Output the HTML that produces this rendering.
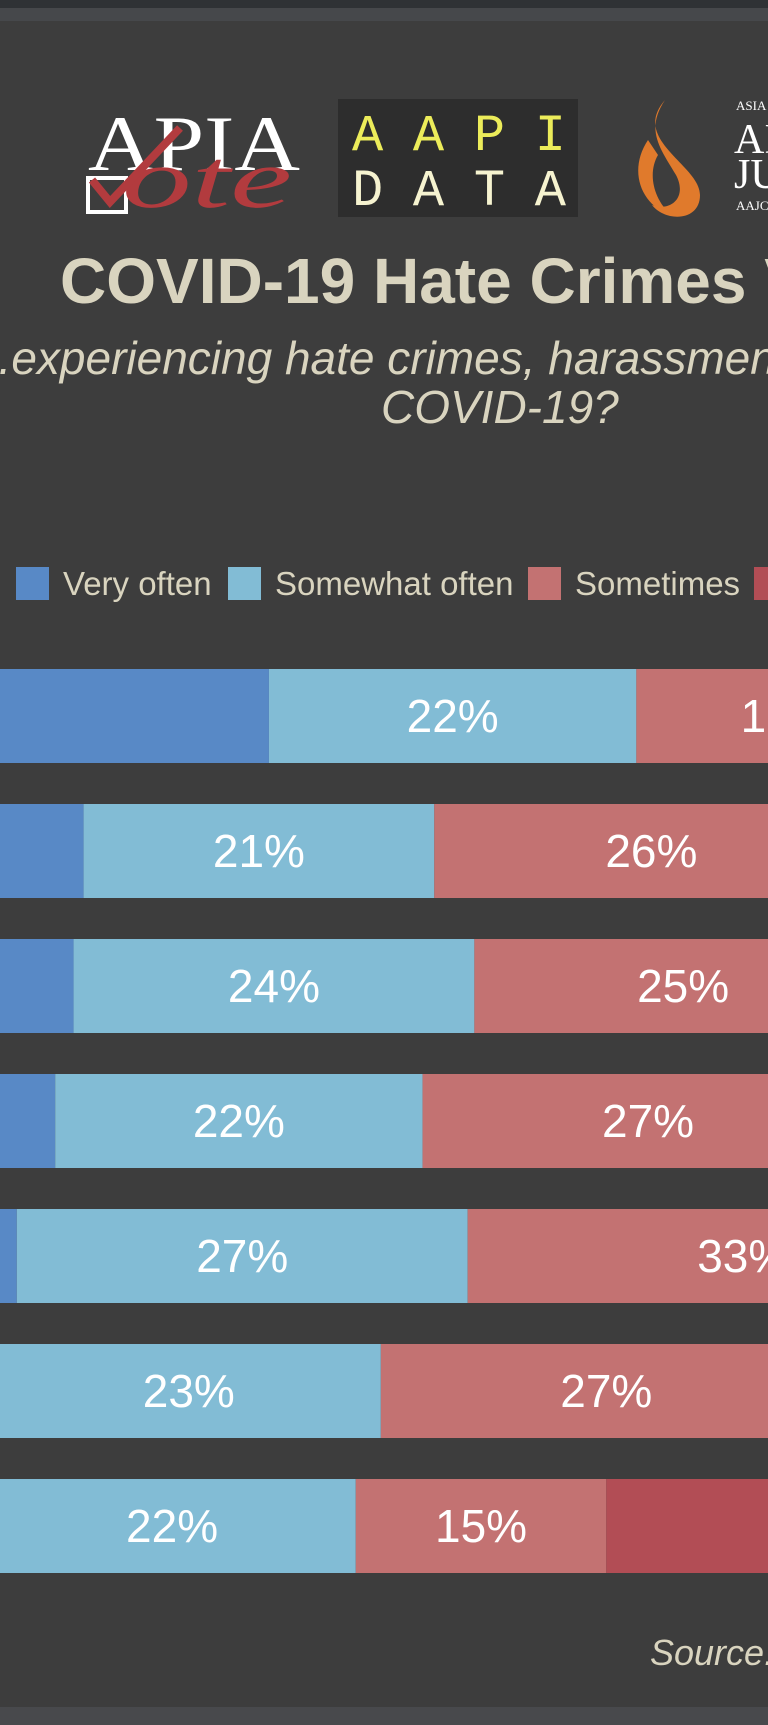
<!DOCTYPE html>
<html><head><meta charset="utf-8">
<style>
html,body{margin:0;padding:0;background:#3d3d3d;width:768px;height:1725px;overflow:hidden}
svg{display:block}
</style></head>
<body>
<svg id="chart" width="768" height="1725" viewBox="0 0 768 1725" xmlns="http://www.w3.org/2000/svg">
  <rect x="0" y="0" width="768" height="1725" fill="#3d3d3d"/>
  <rect x="0" y="0" width="768" height="8" fill="#2f3235"/>
  <rect x="0" y="8" width="768" height="13" fill="#46484b"/>
  <rect x="0" y="1707" width="768" height="18" fill="#48494c"/>

  <g>
    <text x="88" y="170" font-family="Liberation Serif, serif" font-size="78" fill="#ffffff" textLength="212" lengthAdjust="spacingAndGlyphs">APIA</text>
    <rect x="88" y="178" width="38" height="34" fill="none" stroke="#ffffff" stroke-width="4"/>
    <text x="122" y="207" font-family="Liberation Serif, serif" font-style="italic" font-size="84" fill="#b23b3e" textLength="170" lengthAdjust="spacingAndGlyphs">ote</text>
    <path d="M92 180 L110 202 L180 128" fill="none" stroke="#b23b3e" stroke-width="8"/>
  </g>
  <g>
    <rect x="338" y="99" width="240" height="118" fill="#2d2d2d"/>
    <text x="352" y="150" font-family="Liberation Mono, monospace" font-size="52" fill="#ecec5a" textLength="214" lengthAdjust="spacing">AAPI</text>
    <text x="352" y="205" font-family="Liberation Mono, monospace" font-size="52" fill="#f6f3d0" textLength="214" lengthAdjust="spacing">DATA</text>
  </g>
  <g>
    <path d="M665 100 C630 140 700 165 700 195 C700 222 665 222 652 205 C670 212 688 198 676 175 C660 148 645 130 665 100 Z" fill="#e07a2c"/>
    <path d="M648 140 C628 170 640 205 672 216 C652 198 648 172 658 155 Z" fill="#e07a2c"/>
    <text x="736" y="110" font-family="Liberation Serif, serif" font-size="13" fill="#ffffff">ASIA</text>
    <text x="734" y="153" font-family="Liberation Serif, serif" font-size="42" fill="#ffffff">AI</text>
    <text x="734" y="188" font-family="Liberation Serif, serif" font-size="42" fill="#ffffff">JU</text>
    <text x="736" y="210" font-family="Liberation Serif, serif" font-size="13" fill="#ffffff">AAJC</text>
  </g>

  <text x="60" y="303" font-family="Liberation Sans, sans-serif" font-weight="bold" font-size="64" fill="#d9d4bf">COVID-19 Hate Crimes Vulnerability</text>
  <text x="-27" y="374" font-family="Liberation Sans, sans-serif" font-style="italic" font-size="46" fill="#d9d4bf">...experiencing hate crimes, harassment, or discrimination</text>
  <text x="381" y="423" font-family="Liberation Sans, sans-serif" font-style="italic" font-size="46" fill="#d9d4bf">COVID-19?</text>

  <g id="legend"></g>
  <g id="bars"></g>

  <text x="650" y="1665" font-family="Liberation Sans, sans-serif" font-style="italic" font-size="36" fill="#d9d4bf">Source: AAPI Data</text>
</svg>
<script>
const seriesNames = ["Very often", "Somewhat often", "Sometimes", "Rarely", "Never"];
const seriesColors = ["#5889c6", "#82bcd5", "#c37272", "#b24d55", "#8c8c8c"];
const veryOften = [38.5, 27.4, 26.8, 25.7, 23.4, 22.2, 21.7];
const somewhatOften = [22, 21, 24, 22, 27, 23, 22];
const sometimes = [18, 26, 25, 27, 33, 27, 15];
const rarely = [12, 15, 14, 16, 12, 17, 25];
const never = [10, 11, 10, 9, 5, 11, 16];
const series = [veryOften, somewhatOften, sometimes, rarely, never];
const labelText = [
  ["", "22%", "18%", "12%", "10%"],
  ["", "21%", "26%", "15%", "11%"],
  ["", "24%", "25%", "14%", "10%"],
  ["", "22%", "27%", "16%", "9%"],
  ["", "27%", "33%", "12%", "5%"],
  ["", "23%", "27%", "17%", "11%"],
  ["", "22%", "15%", "25%", "16%"]
];

const NS = "http://www.w3.org/2000/svg";
const x0 = -374, k = 16.7;
function xScale(p){ return x0 + p * k; }
const rowTop0 = 669, rowPitch = 135, barH = 94;
function yScale(i){ return rowTop0 + i * rowPitch; }

const bars = document.getElementById("bars");
for (let r = 0; r < veryOften.length; r++) {
  let cum = 0;
  for (let s = 0; s < series.length; s++) {
    const v = series[s][r];
    const rect = document.createElementNS(NS, "rect");
    rect.setAttribute("x", xScale(cum));
    rect.setAttribute("y", yScale(r));
    rect.setAttribute("width", v * k);
    rect.setAttribute("height", barH);
    rect.setAttribute("fill", seriesColors[s]);
    
    
    bars.appendChild(rect);
    if (labelText[r][s]) {
      const t = document.createElementNS(NS, "text");
      t.setAttribute("x", xScale(cum + v / 2));
      t.setAttribute("y", yScale(r) + 63);
      t.setAttribute("text-anchor", "middle");
      t.setAttribute("font-family", "Liberation Sans, sans-serif");
      t.setAttribute("font-size", "46");
      t.setAttribute("fill", "#ffffff");
      t.textContent = labelText[r][s];
      
      
      bars.appendChild(t);
    }
    cum += v;
  }
}

const legend = document.getElementById("legend");
const legendX = [16, 228, 528, 754, 1000];
for (let s = 0; s < seriesNames.length; s++) {
  const sq = document.createElementNS(NS, "rect");
  sq.setAttribute("x", legendX[s]);
  sq.setAttribute("y", 567);
  sq.setAttribute("width", 33);
  sq.setAttribute("height", 33);
  sq.setAttribute("fill", seriesColors[s]);
  
  
  legend.appendChild(sq);
  const t = document.createElementNS(NS, "text");
  t.setAttribute("x", legendX[s] + 47);
  t.setAttribute("y", 595);
  t.setAttribute("font-family", "Liberation Sans, sans-serif");
  t.setAttribute("font-size", "33");
  t.setAttribute("fill", "#d9d4bf");
  t.textContent = seriesNames[s];
  
  
  legend.appendChild(t);
}
</script>
</body></html>
